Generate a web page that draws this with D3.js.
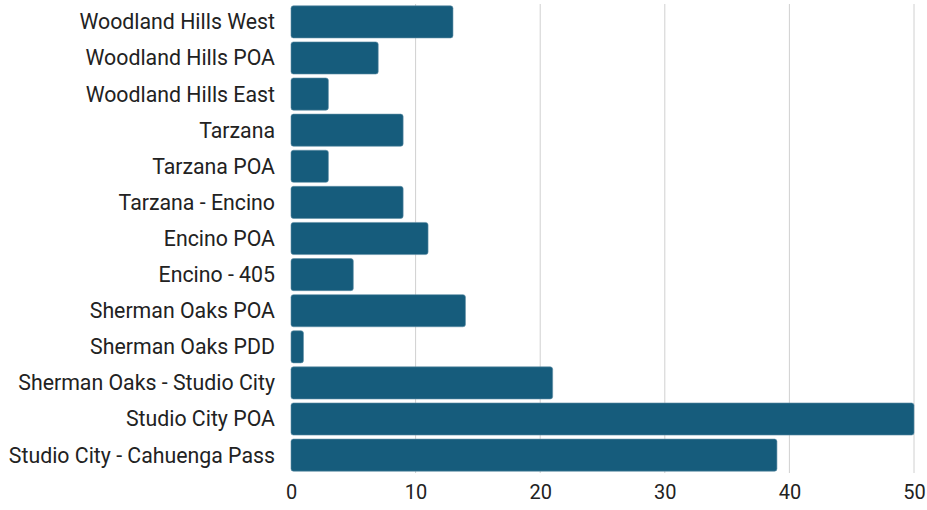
<!DOCTYPE html>
<html>
<head>
<meta charset="UTF-8">
<style>
  body { margin: 0; background: #fff; }
  text { font-family: Roboto, sans-serif; fill: #222; }
</style>
<script src="https://d3js.org/d3.v7.min.js"></script>
</head>
<body>
<div id="chart"></div>
<script>
// categories, top to bottom
const categories = [
  "Woodland Hills West", "Woodland Hills POA", "Woodland Hills East",
  "Tarzana", "Tarzana POA", "Tarzana - Encino", "Encino POA",
  "Encino - 405", "Sherman Oaks POA", "Sherman Oaks PDD",
  "Sherman Oaks - Studio City", "Studio City POA", "Studio City - Cahuenga Pass"
];
const values = [13, 7, 3, 9, 3, 9, 11, 5, 14, 1, 21, 50, 39];
const xTicks = [0, 10, 20, 30, 40, 50];

const width = 927, height = 510;
const margin = { top: 4, right: 13, bottom: 37, left: 291 };

const svg = d3.select("#chart").append("svg")
  .attr("width", width)
  .attr("height", height);

const x = d3.scaleLinear()
  .domain([0, 50])
  .range([margin.left, width - margin.right]);

const y = d3.scaleBand()
  .domain(categories)
  .range([margin.top, height - margin.bottom])
  .paddingInner(0.11)
  .paddingOuter(0.05);

// gridlines
svg.append("g")
  .selectAll("line")
  .data(xTicks.slice(1))
  .join("line")
  .attr("x1", d => x(d)).attr("x2", d => x(d))
  .attr("y1", margin.top).attr("y2", height - margin.bottom)
  .attr("stroke", "#d0d0d0")
  .attr("stroke-width", 1);

// bars
svg.append("g")
  .selectAll("rect")
  .data(values)
  .join("rect")
  .attr("x", x(0))
  .attr("y", (d, i) => y(categories[i]))
  .attr("width", d => x(d) - x(0))
  .attr("height", y.bandwidth())
  .attr("rx", 2.5)
  .attr("fill", "#165c7c")
  .attr("stroke", "#5f8fa6")
  .attr("stroke-width", 0.6);

// y labels
svg.append("g")
  .selectAll("text")
  .data(categories)
  .join("text")
  .attr("x", margin.left - 16)
  .attr("y", d => y(d) + y.bandwidth() / 2)
  .attr("dy", "0.35em")
  .attr("text-anchor", "end")
  .attr("font-size", 21.3)
  .text(d => d);

// x axis labels
const xAxis = d3.axisBottom(x).tickValues(xTicks).tickSize(0).tickPadding(12);
const gx = svg.append("g")
  .attr("transform", `translate(0,${height - margin.bottom})`)
  .call(xAxis);
gx.select(".domain").remove();
gx.selectAll("text")
  .attr("font-size", 20)
  .attr("font-family", "Roboto, sans-serif")
  .attr("fill", "#222");
</script>
</body>
</html>
